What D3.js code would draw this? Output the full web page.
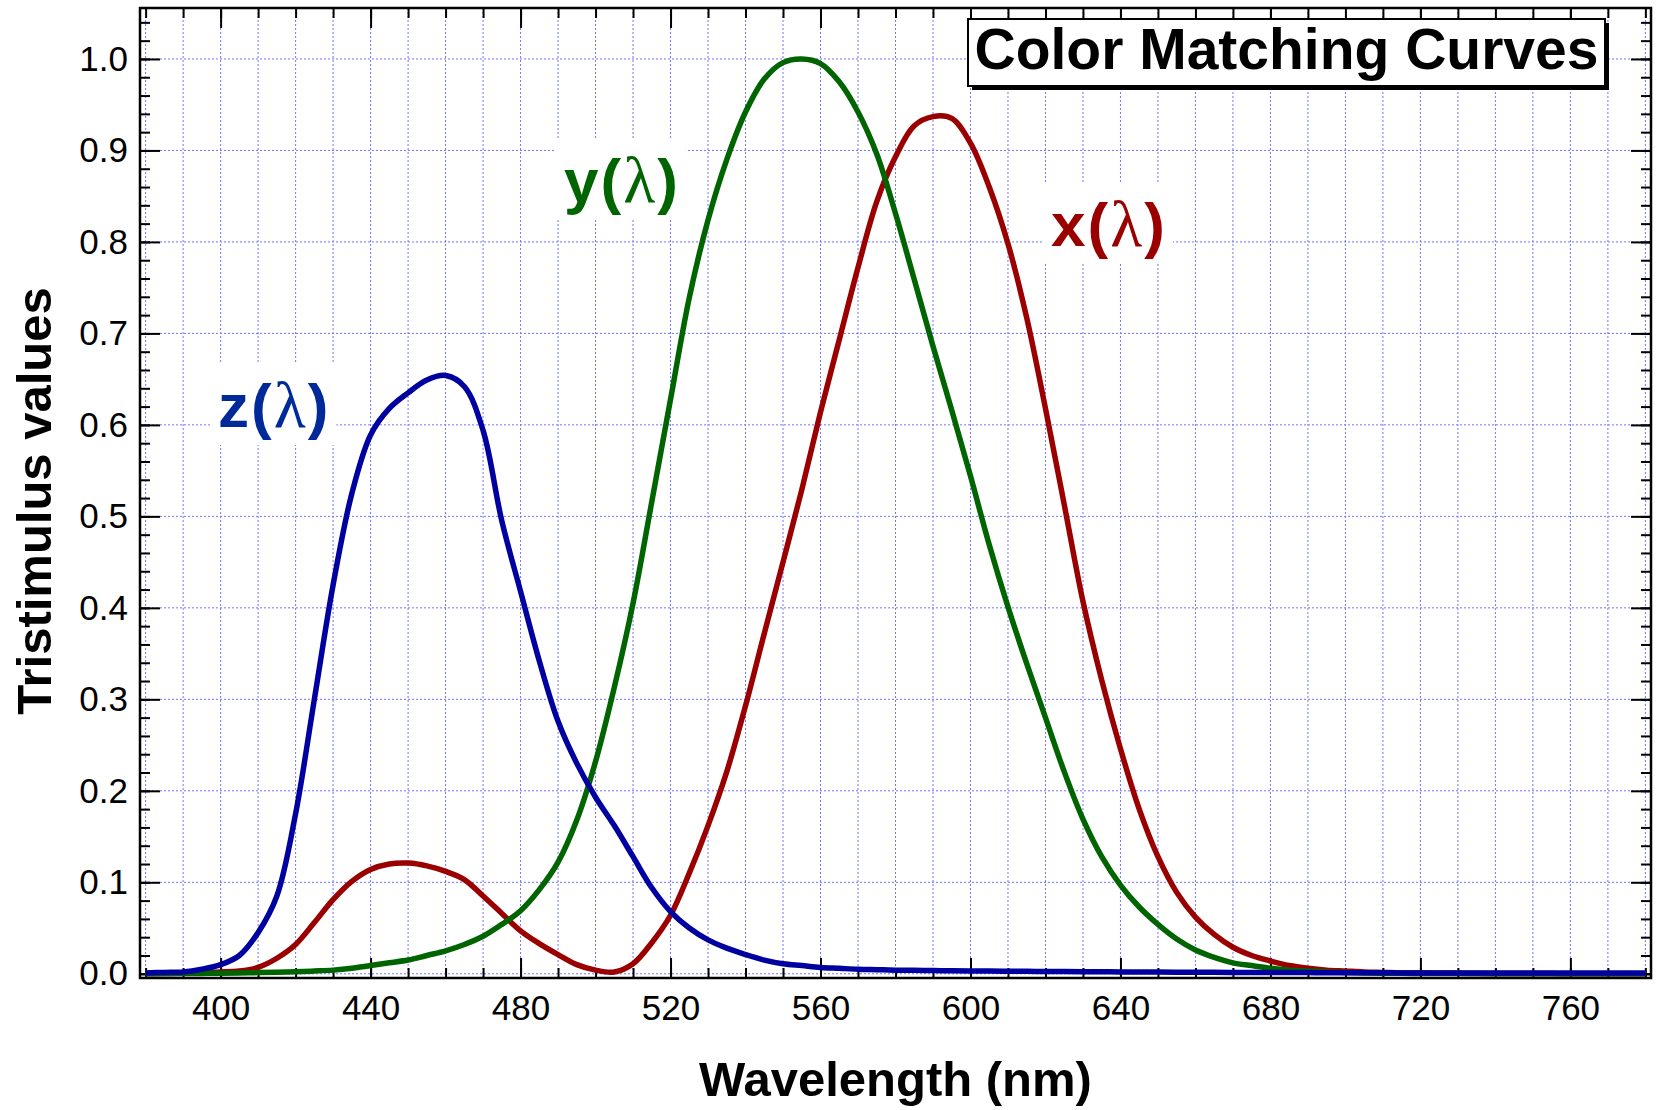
<!DOCTYPE html>
<html>
<head>
<meta charset="utf-8">
<script src="https://cdn.jsdelivr.net/npm/d3@7"></script>
<style>
  body { margin: 0; background: #fff; }
  svg { display: block; font-family: "Liberation Sans", Arial, Helvetica, sans-serif; }
</style>
</head>
<body>
<div id="chart"></div>
<script>
// wavelength samples (nm)
const wavelengths = [
  380, 385, 390, 395, 400, 405, 410, 415, 420, 425, 430, 435, 440, 445, 450, 455, 460, 465, 470, 475,
  480, 485, 490, 495, 500, 505, 510, 515, 520, 525, 530, 535, 540, 545, 550, 555, 560, 565, 570, 575,
  580, 585, 590, 595, 600, 605, 610, 615, 620, 625, 630, 635, 640, 645, 650, 655, 660, 665, 670, 675,
  680, 685, 690, 695, 700, 705, 710, 715, 720, 725, 730, 735, 740, 745, 750, 755, 760, 765, 770, 775, 780
];

// x(λ) – red
const xBar = [
  0.0003, 0.0005, 0.001, 0.0015, 0.002, 0.003, 0.007, 0.017, 0.032, 0.056, 0.081, 0.101, 0.114, 0.120, 0.121, 0.118, 0.112, 0.103, 0.085, 0.066,
  0.047, 0.033, 0.021, 0.010, 0.004, 0.002, 0.011, 0.034, 0.064, 0.110, 0.162, 0.221, 0.293, 0.372, 0.450, 0.529, 0.614, 0.693, 0.772, 0.844,
  0.893, 0.927, 0.937, 0.935, 0.908, 0.860, 0.798, 0.717, 0.618, 0.513, 0.407, 0.321, 0.246, 0.180, 0.128, 0.089, 0.062, 0.043, 0.029, 0.020,
  0.014, 0.009, 0.006, 0.004, 0.003, 0.002, 0.0015, 0.001, 0.0008, 0.0006, 0.0005, 0.0004, 0.0003, 0.0003, 0.0002, 0.0002, 0.0001, 0.0001, 0.0001, 0.0001, 0.0001
];

// y(λ) – green
const yBar = [
  0, 0.0001, 0.0002, 0.0004, 0.0006, 0.001, 0.0013, 0.0017, 0.0022, 0.003, 0.004, 0.006, 0.009, 0.012, 0.015, 0.020, 0.025, 0.032, 0.041, 0.054,
  0.069, 0.092, 0.122, 0.168, 0.232, 0.313, 0.405, 0.516, 0.628, 0.739, 0.824, 0.890, 0.942, 0.978, 0.996, 1.000, 0.995, 0.975, 0.942, 0.896,
  0.831, 0.759, 0.686, 0.616, 0.544, 0.469, 0.401, 0.339, 0.280, 0.221, 0.169, 0.128, 0.097, 0.073, 0.054, 0.038, 0.026, 0.018, 0.012, 0.009,
  0.006, 0.004, 0.003, 0.002, 0.0015, 0.001, 0.0007, 0.0005, 0.0004, 0.0003, 0.0002, 0.0002, 0.0001, 0.0001, 0.0001, 0.0001, 0, 0, 0, 0, 0
];

// z(λ) – blue
const zBar = [
  0.001, 0.0015, 0.002, 0.005, 0.010, 0.020, 0.045, 0.085, 0.175, 0.300, 0.425, 0.525, 0.589, 0.618, 0.635, 0.649, 0.654, 0.642, 0.594, 0.495,
  0.418, 0.342, 0.276, 0.230, 0.193, 0.162, 0.128, 0.094, 0.068, 0.050, 0.037, 0.028, 0.021, 0.015, 0.011, 0.009, 0.007, 0.006, 0.005, 0.0045,
  0.004, 0.0038, 0.0035, 0.0033, 0.003, 0.003, 0.0028, 0.0027, 0.0025, 0.0024, 0.0023, 0.0022, 0.002, 0.002, 0.0019, 0.0018, 0.0017, 0.0016, 0.0015, 0.0015,
  0.0014, 0.0013, 0.0013, 0.0012, 0.0012, 0.0011, 0.0011, 0.001, 0.001, 0.001, 0.001, 0.001, 0.001, 0.001, 0.001, 0.001, 0.001, 0.001, 0.001, 0.001, 0.001
];

const xTickLabels = [400, 440, 480, 520, 560, 600, 640, 680, 720, 760];
const yTickLabels = [0.0, 0.1, 0.2, 0.3, 0.4, 0.5, 0.6, 0.7, 0.8, 0.9, 1.0];

const series = [
  { name: "x", values: xBar, color: "#9b0000" },
  { name: "y", values: yBar, color: "#006400" },
  { name: "z", values: zBar, color: "#0000a0" }
];

const width = 1659, height = 1110;
const plotLeft = 140, plotRight = 1651, plotTop = 8, plotBottom = 978;

const svg = d3.select("#chart").append("svg")
    .attr("width", width)
    .attr("height", height);

const x = d3.scaleLinear().domain([378.5, 781.5]).range([plotLeft, plotRight]);
const y = d3.scaleLinear().domain([-0.0046, 1.0557]).range([plotBottom, plotTop]);

const minorX = d3.range(380, 781, 10);
const minorY = d3.range(0, 1.05, 0.02);

// dotted grid
const grid = svg.append("g").attr("stroke", "#7474ff").attr("stroke-width", 1).attr("stroke-dasharray", "2,2");
grid.selectAll(".vg").data(minorX).enter().append("line")
    .attr("x1", d => x(d)).attr("x2", d => x(d))
    .attr("y1", plotTop).attr("y2", plotBottom);
grid.selectAll(".hg").data(yTickLabels).enter().append("line")
    .attr("x1", plotLeft).attr("x2", plotRight)
    .attr("y1", d => y(d)).attr("y2", d => y(d));

// ticks on all four sides, pointing inward
function styleAxis(g) {
    g.select(".domain").remove();
    g.selectAll(".tick line").attr("stroke", "#000").attr("stroke-width", 2);
    g.selectAll("text").attr("font-size", 35).attr("fill", "#000")
        .attr("font-family", "'Liberation Sans', Arial, sans-serif");
}
function noLabels(axis) { return axis.tickFormat(""); }

svg.append("g").attr("transform", `translate(0,${plotBottom})`)
    .call(noLabels(d3.axisBottom(x).tickValues(minorX).tickSize(-10))).call(styleAxis);
svg.append("g").attr("transform", `translate(0,${plotBottom})`)
    .call(d3.axisBottom(x).tickValues(xTickLabels).tickSize(-20).tickPadding(17).tickFormat(d3.format("d")))
    .call(styleAxis);
svg.append("g").attr("transform", `translate(0,${plotTop})`)
    .call(noLabels(d3.axisTop(x).tickValues(minorX).tickSize(-10))).call(styleAxis);
svg.append("g").attr("transform", `translate(0,${plotTop})`)
    .call(noLabels(d3.axisTop(x).tickValues(xTickLabels).tickSize(-20))).call(styleAxis);

svg.append("g").attr("transform", `translate(${plotLeft},0)`)
    .call(noLabels(d3.axisLeft(y).tickValues(minorY).tickSize(-10))).call(styleAxis);
svg.append("g").attr("transform", `translate(${plotLeft},0)`)
    .call(d3.axisLeft(y).tickValues(yTickLabels).tickSize(-20).tickPadding(12).tickFormat(d3.format(".1f")))
    .call(styleAxis);
svg.append("g").attr("transform", `translate(${plotRight},0)`)
    .call(noLabels(d3.axisRight(y).tickValues(minorY).tickSize(-10))).call(styleAxis);
svg.append("g").attr("transform", `translate(${plotRight},0)`)
    .call(noLabels(d3.axisRight(y).tickValues(yTickLabels).tickSize(-20))).call(styleAxis);

// curves
const line = d3.line()
    .x((d, i) => x(wavelengths[i]))
    .y(d => y(d))
    .curve(d3.curveCatmullRom.alpha(0.5));

svg.append("g").selectAll("path").data(series).enter().append("path")
    .attr("d", d => line(d.values))
    .attr("fill", "none")
    .attr("stroke", d => d.color)
    .attr("stroke-width", 5.5)
    .attr("stroke-linejoin", "round");

// frame
svg.append("rect")
    .attr("x", plotLeft).attr("y", plotTop)
    .attr("width", plotRight - plotLeft).attr("height", plotBottom - plotTop)
    .attr("fill", "none").attr("stroke", "#000").attr("stroke-width", 2.5);

// curve labels with white backing
const curveLabels = [
  { letter: "z", color: "#00299a", x: 218, y: 427 },
  { letter: "y", color: "#006400", x: 564, y: 202 },
  { letter: "x", color: "#9a0000", x: 1051, y: 246 }
];
curveLabels.forEach(l => {
    const g = svg.append("g");
    const bg = g.append("rect").attr("fill", "#fff");
    const t = g.append("text")
        .attr("x", l.x).attr("y", l.y)
        .attr("font-size", 62)
        .attr("font-weight", "bold")
        .attr("fill", l.color);
    t.append("tspan").text(l.letter);
    t.append("tspan").attr("dx", 2).text("(");
    t.append("tspan").attr("dx", 2).attr("font-weight", "normal").attr("font-size", 66)
        .attr("font-family", "'Liberation Serif', 'DejaVu Serif', serif").text("λ");
    t.append("tspan").attr("dx", 2).text(")");
    const b = t.node().getBBox();
    bg.attr("x", b.x - 8).attr("y", b.y - 4).attr("width", b.width + 16).attr("height", b.height + 8);
});

// title box
const box = { x: 968, y: 19, w: 637, h: 67 };
svg.append("rect")
    .attr("x", box.x + 4).attr("y", box.y + 4)
    .attr("width", box.w).attr("height", box.h)
    .attr("fill", "#000");
svg.append("rect")
    .attr("x", box.x).attr("y", box.y)
    .attr("width", box.w).attr("height", box.h)
    .attr("fill", "#fff").attr("stroke", "#000").attr("stroke-width", 2);
svg.append("text")
    .attr("x", box.x + box.w / 2).attr("y", 69)
    .attr("text-anchor", "middle")
    .attr("font-size", 57)
    .attr("font-weight", "bold")
    .text("Color Matching Curves");

// axis titles
svg.append("text")
    .attr("x", (plotLeft + plotRight) / 2).attr("y", 1096)
    .attr("text-anchor", "middle")
    .attr("font-size", 49)
    .attr("font-weight", "bold")
    .text("Wavelength (nm)");

svg.append("text")
    .attr("transform", `translate(51,${(plotTop + plotBottom) / 2 + 8}) rotate(-90)`)
    .attr("text-anchor", "middle")
    .attr("font-size", 49)
    .attr("font-weight", "bold")
    .text("Tristimulus values");
</script>
</body>
</html>
